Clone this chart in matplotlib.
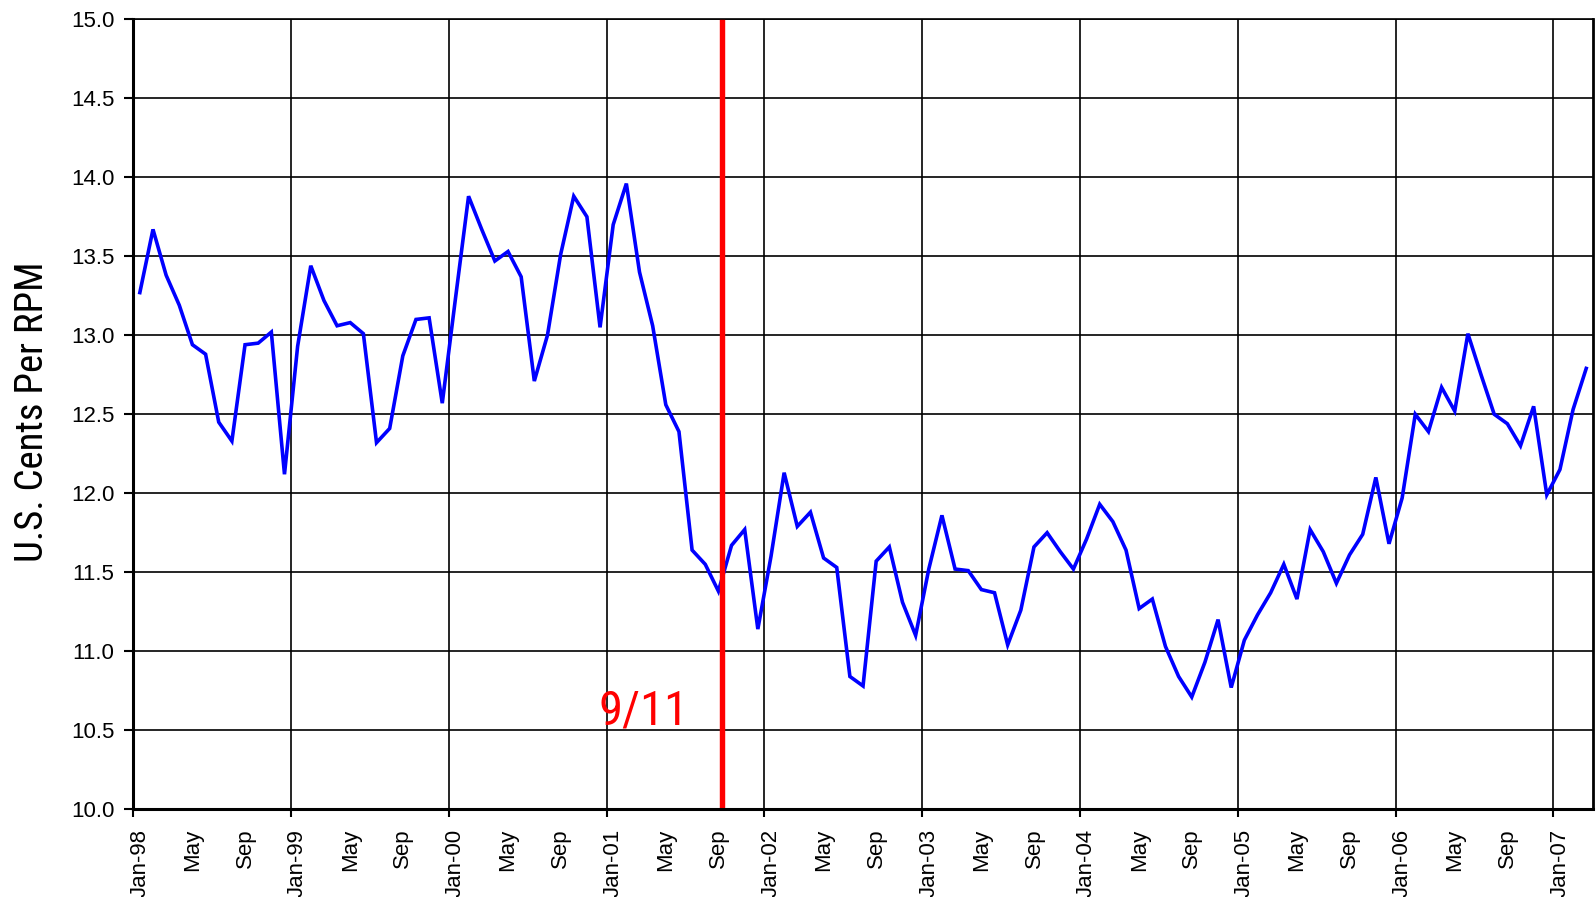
import numpy as np
import matplotlib
matplotlib.use("Agg")
import matplotlib.pyplot as plt
from matplotlib import font_manager

# ---- data ----
years = ["98", "99", "00", "01", "02", "03", "04", "05", "06", "07"]
cents_per_rpm = [
    13.27, 13.67, 13.38, 13.19, 12.94, 12.88, 12.45, 12.33, 12.94, 12.95, 13.02, 12.12,  # 1998
    12.93, 13.44, 13.22, 13.06, 13.08, 13.01, 12.32, 12.41, 12.87, 13.10, 13.11, 12.57,  # 1999
    13.23, 13.88, 13.67, 13.47, 13.53, 13.37, 12.71, 13.00, 13.51, 13.88, 13.75, 13.05,  # 2000
    13.70, 13.96, 13.40, 13.06, 12.56, 12.39, 11.64, 11.55, 11.38, 11.67, 11.77, 11.14,  # 2001
    11.60, 12.13, 11.79, 11.88, 11.59, 11.53, 10.84, 10.78, 11.57, 11.66, 11.31, 11.10,  # 2002
    11.52, 11.86, 11.52, 11.51, 11.39, 11.37, 11.04, 11.26, 11.66, 11.75, 11.63, 11.52,  # 2003
    11.71, 11.93, 11.82, 11.64, 11.27, 11.33, 11.03, 10.84, 10.71, 10.93, 11.20, 10.77,  # 2004
    11.07, 11.23, 11.37, 11.55, 11.33, 11.77, 11.63, 11.43, 11.61, 11.74, 12.10, 11.68,  # 2005
    11.97, 12.50, 12.39, 12.67, 12.52, 13.01, 12.75, 12.50, 12.44, 12.30, 12.55, 11.99,  # 2006
    12.15, 12.53, 12.79,                                                                  # 2007
]
tick_labels = []
for y in years:
    tick_labels += ["Jan-" + y, "May", "Sep"]
n_months = len(cents_per_rpm)
event_month = 44.75          # Sep-01 marker
event_label = "9/11"
y_label = "U.S. Cents Per RPM"

# ---- fonts ----
available = {f.name for f in font_manager.fontManager.ttflist}
base_font = "Liberation Sans" if "Liberation Sans" in available else "DejaVu Sans"
narrow_candidates = ["Liberation Sans Narrow", "DejaVu Sans Condensed", "Roboto Condensed"]
narrow_font = next((f for f in narrow_candidates if f in available), None)
plt.rcParams["font.family"] = [base_font, "DejaVu Sans"]

fig = plt.figure(figsize=(15.96, 8.97), dpi=100)
ax = fig.add_axes([0.0835, 0.0979, 0.9145, 0.8806])

x = np.arange(n_months) + 0.5
ax.plot(x, cents_per_rpm, color="#0000FF", lw=2.6, zorder=3, solid_joinstyle="miter")

ax.axvline(event_month, ymin=0.004, ymax=1.0, color="#FF0000", lw=3.9, zorder=4)
if narrow_font:
    ax.text(38.8, 10.535, event_label, color="#FF0000", fontsize=35,
            family=narrow_font, ha="center", va="baseline", zorder=5)
else:
    ax.text(38.8, 10.535, event_label, color="#FF0000", fontsize=29,
            ha="center", va="baseline", zorder=5)

ax.set_xlim(0, n_months)
ax.set_ylim(10.0, 15.0)

# y axis
ax.set_yticks(np.arange(10.0, 15.01, 0.5))
ax.set_yticklabels([f"{v:.1f}" for v in np.arange(10.0, 15.01, 0.5)], fontsize=16)
ax.tick_params(axis="y", direction="out", length=6.5, width=1.5, pad=7, colors="black")
ax.yaxis.grid(True, color="black", lw=1.2)

# x axis: labels every 4 months (mid-month), tick marks / grid at January
ax.set_xticks(np.arange(0, n_months, 4) + 0.5)
ax.set_xticklabels(tick_labels[:len(range(0, n_months, 4))], rotation=90, fontsize=16,
                   ha="center", va="top")
ax.tick_params(axis="x", which="major", length=0, pad=14)
ax.set_xticks(np.arange(0, n_months, 12), minor=True)
ax.tick_params(axis="x", which="minor", direction="out", length=6, width=1.5, color="black")
ax.xaxis.grid(True, which="minor", color="black", lw=1.2)
ax.xaxis.grid(False, which="major")
ax.set_axisbelow(True)

for side in ["left", "bottom"]:
    ax.spines[side].set_linewidth(2.2)
ax.spines["right"].set_linewidth(2.0)
ax.spines["top"].set_linewidth(1.2)
for s in ax.spines.values():
    s.set_color("black")
    s.set_zorder(6)

if narrow_font:
    fig.text(33 / 1596, 1 - 412 / 897, y_label, rotation=90, fontsize=28,
             family=narrow_font, ha="center", va="center")
else:
    fig.text(33 / 1596, 1 - 412 / 897, y_label, rotation=90, fontsize=23,
             ha="center", va="center")

fig.savefig("out.png", dpi=100)
